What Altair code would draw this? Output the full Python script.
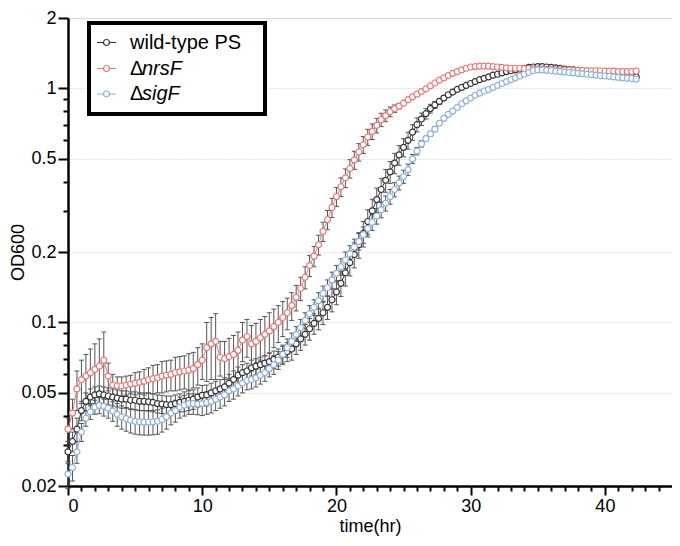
import altair as alt
import pandas as pd

series_names = ["wild-type PS", "ΔnrsF", "ΔsigF"]
series_colors = ["#333333", "#e27a76", "#8eb0d9"]

# sampling grid: every 20 min
time_hr = [round(i / 3, 4) for i in range(128)]

wt_od = [
    0.028, 0.031, 0.035, 0.042, 0.046, 0.048, 0.049, 0.0495, 0.049, 0.0485,
    0.048, 0.0475, 0.047, 0.047, 0.0465, 0.0465, 0.046, 0.046, 0.0458, 0.0455,
    0.045, 0.0448, 0.0445, 0.0445, 0.045, 0.0455, 0.046, 0.0465, 0.047, 0.048,
    0.0488, 0.049, 0.050, 0.051, 0.052, 0.053, 0.055, 0.057, 0.0595, 0.061,
    0.062, 0.064, 0.065, 0.066, 0.067, 0.068, 0.0695, 0.071, 0.073, 0.075,
    0.077, 0.081, 0.085, 0.089, 0.094, 0.099, 0.104, 0.110, 0.116, 0.125,
    0.135, 0.147, 0.163, 0.180, 0.195, 0.215, 0.240, 0.270, 0.300, 0.335,
    0.370, 0.405, 0.440, 0.480, 0.520, 0.560, 0.600, 0.650, 0.700, 0.740,
    0.780, 0.820, 0.850, 0.880, 0.910, 0.940, 0.965, 0.990, 1.010, 1.030,
    1.050, 1.070, 1.090, 1.105, 1.120, 1.140, 1.150, 1.165, 1.180, 1.190,
    1.200, 1.210, 1.220, 1.230, 1.235, 1.240, 1.240, 1.235, 1.230, 1.225,
    1.220, 1.210, 1.205, 1.200, 1.195, 1.190, 1.185, 1.180, 1.175, 1.170,
    1.165, 1.160, 1.155, 1.150, 1.145, 1.135, 1.130, 1.120,
]
wt_sd = [
    0.003, 0.003, 0.004, 0.004, 0.004, 0.004, 0.004, 0.004, 0.004, 0.004,
    0.004, 0.004, 0.004, 0.004, 0.004, 0.004, 0.004, 0.004, 0.004, 0.004,
    0.004, 0.004, 0.004, 0.004, 0.004, 0.004, 0.0045, 0.0045, 0.0045, 0.0045,
    0.005, 0.005, 0.005, 0.005, 0.005, 0.005, 0.005, 0.005, 0.005, 0.005,
    0.005, 0.005, 0.005, 0.005, 0.005, 0.006, 0.006, 0.006, 0.007, 0.007,
    0.008, 0.008, 0.009, 0.009, 0.010, 0.010, 0.011, 0.012, 0.013, 0.014,
    0.016, 0.018, 0.020, 0.022, 0.024, 0.027, 0.030, 0.033, 0.036, 0.040,
    0.043, 0.045, 0.047, 0.048, 0.050, 0.050, 0.050, 0.050, 0.048, 0.045,
    0.040, 0.035, 0.030, 0.026, 0.022, 0.020, 0.018, 0.016, 0.015, 0.015,
    0.015, 0.015, 0.015, 0.015, 0.015, 0.015, 0.015, 0.015, 0.015, 0.015,
    0.016, 0.017, 0.018, 0.020, 0.020, 0.020, 0.020, 0.020, 0.020, 0.020,
    0.020, 0.020, 0.020, 0.020, 0.020, 0.020, 0.020, 0.020, 0.020, 0.020,
    0.020, 0.020, 0.020, 0.020, 0.020, 0.022, 0.025, 0.030,
]

nrsf_od = [
    0.035, 0.041, 0.052, 0.057, 0.059, 0.061, 0.063, 0.065, 0.069, 0.059,
    0.054, 0.0535, 0.0535, 0.054, 0.0545, 0.055, 0.0555, 0.056, 0.057, 0.0575,
    0.058, 0.059, 0.0595, 0.060, 0.061, 0.0615, 0.062, 0.0625, 0.0635, 0.066,
    0.069, 0.078, 0.081, 0.083, 0.071, 0.070, 0.0715, 0.073, 0.076, 0.084,
    0.087, 0.081, 0.083, 0.086, 0.089, 0.092, 0.096, 0.100, 0.105, 0.110,
    0.118, 0.128, 0.140, 0.156, 0.175, 0.192, 0.215, 0.245, 0.275, 0.310,
    0.345, 0.380, 0.415, 0.455, 0.495, 0.535, 0.575, 0.620, 0.655, 0.695,
    0.735, 0.765, 0.795, 0.820, 0.840, 0.865, 0.895, 0.920, 0.945, 0.970,
    0.995, 1.025, 1.055, 1.085, 1.110, 1.135, 1.160, 1.180, 1.200, 1.220,
    1.235, 1.240, 1.245, 1.245, 1.245, 1.240, 1.235, 1.230, 1.225, 1.220,
    1.220, 1.220, 1.215, 1.215, 1.210, 1.210, 1.210, 1.205, 1.205, 1.200,
    1.200, 1.200, 1.200, 1.195, 1.195, 1.195, 1.190, 1.190, 1.190, 1.190,
    1.185, 1.185, 1.185, 1.180, 1.180, 1.180, 1.180, 1.185,
]
nrsf_sd = [
    0.004, 0.006, 0.010, 0.012, 0.014, 0.016, 0.018, 0.020, 0.022, 0.008,
    0.006, 0.005, 0.005, 0.005, 0.005, 0.006, 0.006, 0.007, 0.007, 0.008,
    0.008, 0.009, 0.009, 0.009, 0.010, 0.010, 0.010, 0.011, 0.011, 0.012,
    0.012, 0.022, 0.024, 0.026, 0.012, 0.013, 0.014, 0.015, 0.015, 0.016,
    0.016, 0.016, 0.016, 0.017, 0.017, 0.018, 0.018, 0.018, 0.018, 0.017,
    0.016, 0.016, 0.016, 0.017, 0.018, 0.019, 0.021, 0.023, 0.026, 0.029,
    0.032, 0.035, 0.038, 0.041, 0.044, 0.046, 0.048, 0.049, 0.050, 0.050,
    0.048, 0.044, 0.038, 0.030, 0.022, 0.016, 0.012, 0.010, 0.010, 0.010,
    0.010, 0.010, 0.010, 0.010, 0.010, 0.010, 0.010, 0.010, 0.010, 0.010,
    0.010, 0.010, 0.010, 0.010, 0.010, 0.010, 0.010, 0.010, 0.010, 0.010,
    0.010, 0.010, 0.010, 0.010, 0.010, 0.010, 0.010, 0.010, 0.010, 0.010,
    0.010, 0.010, 0.010, 0.010, 0.010, 0.010, 0.010, 0.010, 0.012, 0.012,
    0.012, 0.012, 0.014, 0.014, 0.016, 0.018, 0.020, 0.025,
]

sigf_od = [
    0.0225, 0.024, 0.028, 0.034, 0.039, 0.0415, 0.0435, 0.0442, 0.0438, 0.043,
    0.0418, 0.0405, 0.0395, 0.0388, 0.0382, 0.0378, 0.0376, 0.0375, 0.0375, 0.0376,
    0.0378, 0.0385, 0.0395, 0.041, 0.042, 0.0435, 0.0443, 0.045, 0.045, 0.0448,
    0.045, 0.0455, 0.046, 0.047, 0.048, 0.049, 0.051, 0.052, 0.0535, 0.055,
    0.0565, 0.057, 0.058, 0.0595, 0.061, 0.0635, 0.066, 0.069, 0.073, 0.078,
    0.083, 0.089, 0.095, 0.102, 0.109, 0.116, 0.124, 0.133, 0.141, 0.152,
    0.162, 0.173, 0.185, 0.197, 0.210, 0.222, 0.237, 0.252, 0.268, 0.285,
    0.303, 0.323, 0.345, 0.370, 0.395, 0.420, 0.450, 0.500, 0.540, 0.580,
    0.610, 0.640, 0.670, 0.710, 0.745, 0.775, 0.800, 0.830, 0.860, 0.885,
    0.910, 0.935, 0.955, 0.975, 0.990, 1.010, 1.030, 1.050, 1.070, 1.090,
    1.110, 1.130, 1.150, 1.170, 1.190, 1.200, 1.200, 1.195, 1.190, 1.185,
    1.180, 1.175, 1.170, 1.165, 1.160, 1.155, 1.150, 1.145, 1.140, 1.135,
    1.130, 1.125, 1.120, 1.115, 1.110, 1.105, 1.100, 1.095,
]
sigf_sd = [
    0.003, 0.003, 0.003, 0.003, 0.003, 0.003, 0.003, 0.0035, 0.004, 0.004,
    0.004, 0.0045, 0.0045, 0.0045, 0.0045, 0.0045, 0.0045, 0.0045, 0.0045, 0.0045,
    0.0045, 0.0045, 0.0045, 0.0045, 0.0045, 0.0045, 0.0045, 0.0045, 0.0045, 0.0045,
    0.005, 0.005, 0.005, 0.005, 0.005, 0.005, 0.005, 0.005, 0.005, 0.005,
    0.005, 0.005, 0.005, 0.005, 0.005, 0.005, 0.006, 0.006, 0.006, 0.007,
    0.007, 0.007, 0.008, 0.008, 0.009, 0.009, 0.010, 0.010, 0.011, 0.012,
    0.013, 0.014, 0.015, 0.016, 0.017, 0.018, 0.019, 0.020, 0.021, 0.022,
    0.023, 0.024, 0.025, 0.026, 0.027, 0.027, 0.025, 0.022, 0.020, 0.018,
    0.015, 0.015, 0.015, 0.015, 0.015, 0.015, 0.015, 0.015, 0.015, 0.015,
    0.015, 0.015, 0.015, 0.015, 0.015, 0.015, 0.015, 0.015, 0.015, 0.015,
    0.015, 0.015, 0.015, 0.015, 0.015, 0.015, 0.015, 0.015, 0.015, 0.015,
    0.015, 0.015, 0.015, 0.015, 0.015, 0.015, 0.015, 0.015, 0.015, 0.015,
    0.015, 0.015, 0.015, 0.015, 0.015, 0.015, 0.015, 0.015,
]

x_major = [0, 10, 20, 30, 40]
x_minor = [v for v in range(1, 45) if v % 10 != 0]
y_major = [0.02, 0.05, 0.1, 0.2, 0.5, 1, 2]
y_minor = [0.03, 0.04, 0.06, 0.07, 0.08, 0.09, 0.3, 0.4, 0.6, 0.7, 0.8, 0.9]

FONT = "Liberation Sans"

frames = []
for name, od, sd in zip(series_names, [wt_od, nrsf_od, sigf_od], [wt_sd, nrsf_sd, sigf_sd]):
    d = pd.DataFrame({"t": time_hr, "v": od, "sd": sd})
    d["lo"] = d["v"] - d["sd"]
    d["hi"] = d["v"] + d["sd"]
    d["series"] = name
    frames.append(d)
df = pd.concat(frames, ignore_index=True)

xs = alt.Scale(domain=[0, 45], nice=False, zero=False)
ys = alt.Scale(type="log", domain=[0.02, 2], nice=False)
cs = alt.Scale(domain=series_names, range=series_colors)

x_axis = alt.Axis(values=x_major, title="time(hr)", tickSize=9, tickWidth=2,
                  domainWidth=2.5, domainColor="black", tickColor="black",
                  labelFontSize=18, labelFont=FONT, labelColor="black", labelPadding=2,
                  titleFont=FONT, titleFontSize=18, titleFontWeight="normal", titleColor="black",
                  titlePadding=2, grid=False, orient="bottom")
y_axis = alt.Axis(values=y_major, format="~g", title="OD600", tickSize=10, tickWidth=2,
                  domainWidth=2.5, domainColor="black", tickColor="black",
                  labelFontSize=18, labelFont=FONT, labelColor="black", labelPadding=2,
                  titleFont=FONT, titleFontSize=18, titleFontWeight="normal", titleColor="black",
                  titleX=-41, grid=True, gridDash=[1, 2], gridColor="#c8c8c8", gridWidth=1,
                  orient="left")
x_minor_axis = alt.Axis(values=x_minor, labels=False, title=None, tickSize=5, tickWidth=2,
                        tickColor="black", domain=False, grid=False, orient="bottom")
y_minor_axis = alt.Axis(values=y_minor, labels=False, title=None, tickSize=5, tickWidth=2,
                        tickColor="black", domain=False, grid=False, orient="left")

base = alt.Chart(df)

err_rule = base.mark_rule(color="#555555", strokeWidth=1).encode(
    x=alt.X("t:Q", scale=xs, axis=x_axis),
    y=alt.Y("lo:Q", scale=ys, axis=y_axis),
    y2="hi:Q",
)
cap_hi = base.mark_tick(orient="horizontal", size=5, thickness=1, color="#555555", opacity=1).encode(
    x=alt.X("t:Q", scale=xs, axis=None),
    y=alt.Y("hi:Q", scale=ys, axis=None),
)
cap_lo = base.mark_tick(orient="horizontal", size=5, thickness=1, color="#555555", opacity=1).encode(
    x=alt.X("t:Q", scale=xs, axis=None),
    y=alt.Y("lo:Q", scale=ys, axis=None),
)
lines = base.mark_line(strokeWidth=1).encode(
    x=alt.X("t:Q", scale=xs, axis=None),
    y=alt.Y("v:Q", scale=ys, axis=None),
    color=alt.Color("series:N", scale=cs, legend=None),
    detail="series:N",
    order="t:Q",
)
points = base.mark_point(shape="circle", size=36, strokeWidth=1.2, fill="white",
                         filled=False, opacity=1).encode(
    x=alt.X("t:Q", scale=xs, axis=None),
    y=alt.Y("v:Q", scale=ys, axis=None),
    stroke=alt.Stroke("series:N", scale=cs, legend=None),
)
minor = base.mark_point(opacity=0).encode(
    x=alt.X("t:Q", scale=xs, axis=x_minor_axis),
    y=alt.Y("v:Q", scale=ys, axis=y_minor_axis),
)

# manual legend (box + entries)
one = alt.Chart(pd.DataFrame({"k": [0]}))
legend_layers = [
    one.mark_rect(fill="white", stroke="black", strokeWidth=4).encode(
        x=alt.value(21), x2=alt.value(197), y=alt.value(5), y2=alt.value(96))
]
row_y = [24.5, 50.5, 76]
for name, col, ry in zip(series_names, series_colors, row_y):
    legend_layers.append(one.mark_rule(color=col, strokeWidth=1).encode(
        x=alt.value(29), x2=alt.value(48), y=alt.value(ry)))
    legend_layers.append(one.mark_point(shape="circle", size=36, strokeWidth=1.2, fill="white",
                                        filled=False, stroke=col, opacity=1).encode(
        x=alt.value(38.5), y=alt.value(ry)))
    if name.startswith("Δ"):
        legend_layers.append(one.mark_text(text="Δ", font=FONT, fontSize=20, align="left",
                                           baseline="middle", color="black").encode(
            x=alt.value(62), y=alt.value(ry)))
        legend_layers.append(one.mark_text(text=name[1:], font=FONT, fontSize=20, fontStyle="italic",
                                           align="left", baseline="middle", color="black").encode(
            x=alt.value(74), y=alt.value(ry)))
    else:
        legend_layers.append(one.mark_text(text=name, font=FONT, fontSize=20, align="left",
                                           baseline="middle", color="black").encode(
            x=alt.value(62), y=alt.value(ry)))

chart = alt.layer(err_rule, cap_hi, cap_lo, lines, points, minor, *legend_layers).resolve_axis(
    x="independent", y="independent"
).properties(
    width=604, height=468,
    autosize=alt.AutoSizeParams(type="none"),
    padding={"left": 60, "top": 10, "right": 0, "bottom": 52},
).configure_view(stroke="black", strokeWidth=2.5).configure(background="white")

chart.save("out.html", embed_options={"renderer": "svg", "actions": False})
